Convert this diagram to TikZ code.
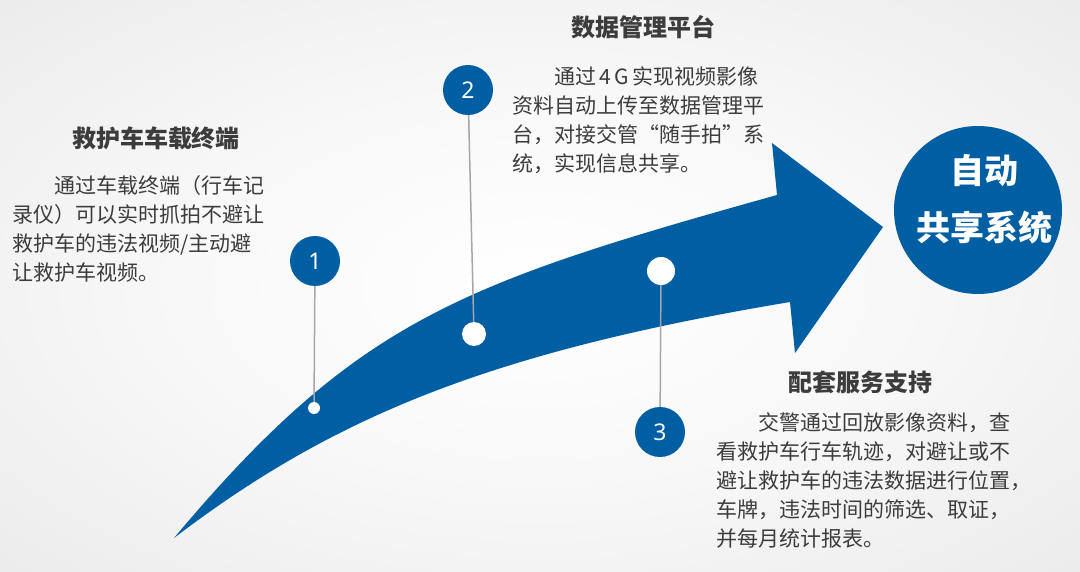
\documentclass[tikz,border=0pt]{standalone}
\usepackage{fontspec}
\setmainfont{Noto Sans CJK SC}
\newfontfamily\digitfont{Noto Sans}
\definecolor{arrowblue}{RGB}{0,94,163}
\definecolor{textgray}{RGB}{60,60,60}
\definecolor{leadgray}{RGB}{166,166,166}
\definecolor{bgedge}{RGB}{226,226,226}
\pgfdeclareradialshading{backdrop}{\pgfpoint{0bp}{0bp}}{color(0bp)=(white); color(18bp)=(white!97!black); color(50bp)=(bgedge); color(72bp)=(bgedge!94!black)}
\tikzset{
  stagenum/.style={circle,fill=arrowblue,minimum size=50pt,inner sep=0pt,
    text=white,font=\digitfont\fontsize{23}{23}\selectfont},
  stagedot/.style={circle,fill=white,inner sep=0pt,minimum size=#1},
  stagetitle/.style={font=\bfseries\fontsize{24}{24}\selectfont,text=textgray,inner sep=0pt},
  stagetext/.style={font=\fontsize{21}{29}\selectfont,text=textgray,
    align=left,inner sep=0pt,anchor=north west},
  leader/.style={draw=leadgray,line width=1.5pt},
  hub/.style={circle,fill=arrowblue,minimum size=168pt,inner sep=0pt},
  hubtext/.style={font=\bfseries\fontsize{34}{57}\selectfont,text=white,align=center}
}
\begin{document}
\begin{tikzpicture}[x=1pt,y=-1pt]
  \useasboundingbox (0,0) rectangle (1080,572);
  \shade[shading=backdrop] (0,0) rectangle (1080,572);

  % curved arrow
  \fill[arrowblue] (174,538) .. controls (357,320) and (459,284) .. (777,195)
    -- (772,143) -- (883,227) -- (795,353) -- (790,302)
    .. controls (491,352) and (334,416) .. (174,538) -- cycle;

  % markers on the arrow
  \node[stagedot=12pt] (dot1) at (314,408) {};
  \node[stagedot=24pt] (dot2) at (474,334) {};
  \node[stagedot=28pt] (dot3) at (661,271) {};
  \node[stagenum] (num1) at (315,261) {1};
  \node[stagenum] (num2) at (468,90) {2};
  \node[stagenum] (num3) at (660,432) {3};
  \draw[leader] (num1) -- (dot1);
  \draw[leader] (num2) -- (dot2);
  \draw[leader] (num3) -- (dot3);

  % texts
  \node[stagetitle] (title1) at (156,138) {救护车车载终端};
  \node[stagetext] (text1) at (12,175) {\hspace*{2em}通过车载终端（行车记\\录仪）可以实时抓拍不避让\\救护车的违法视频/主动避\\让救护车视频。};
  \node[stagetitle] (title2) at (643,27) {数据管理平台};
  \node[stagetext] (text2) at (512,67) {\hspace*{2em}通过\makebox[1.75em]{4\hspace{0.15em}G}实现视频影像\\资料自动上传至数据管理平\\台，对接交管“随手拍”系\\统，实现信息共享。};
  \node[stagetitle] (title3) at (860,382) {配套服务支持};
  \node[stagetext] (text3) at (716,412) {\hspace*{2em}交警通过回放影像资料，查\\看救护车行车轨迹，对避让或不\\避让救护车的违法数据进行位置，\\车牌，违法时间的筛选、取证，\\并每月统计报表。};

  % result
  \node[hub] (share) at (978,210) {};
  \node[hubtext] (sharetext) at ([xshift=6pt,yshift=11pt]share.center) {自动\\共享系统};
\end{tikzpicture}
\end{document}
